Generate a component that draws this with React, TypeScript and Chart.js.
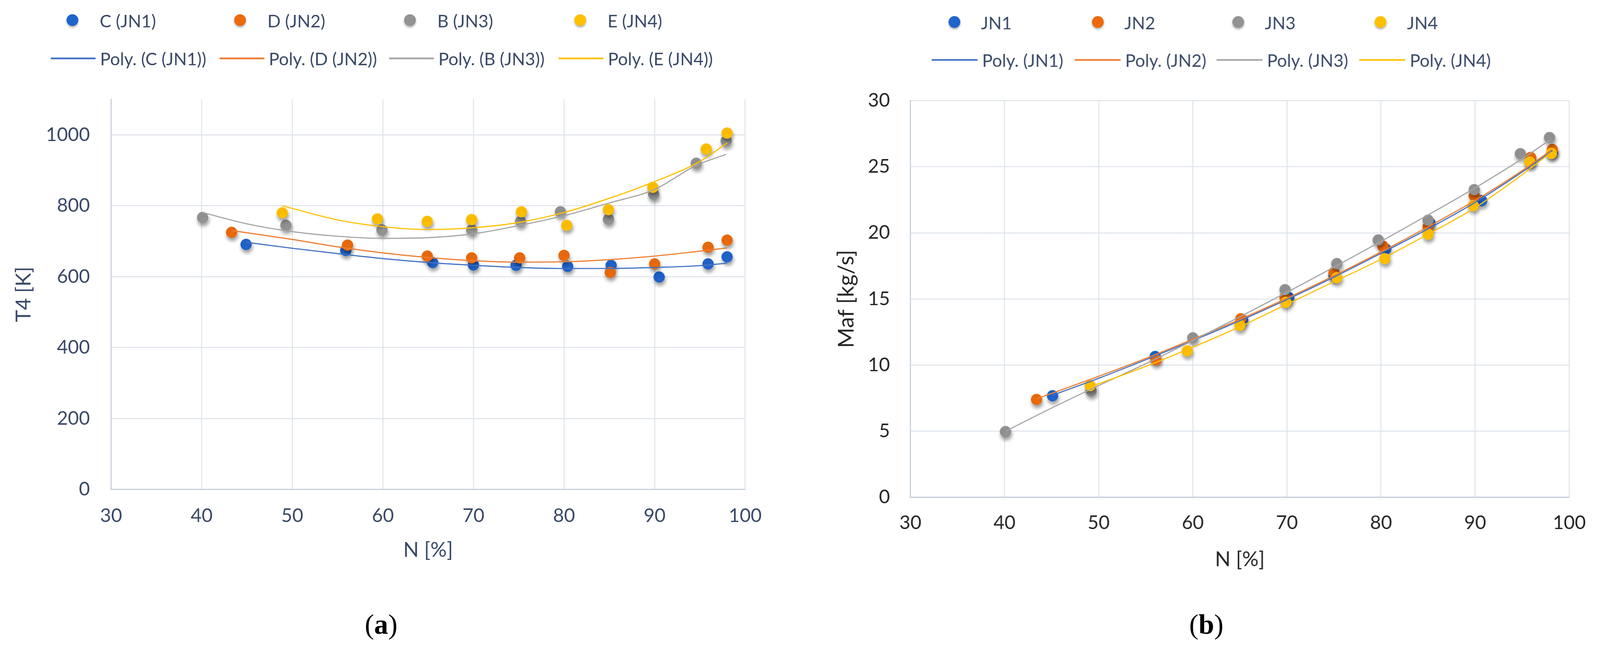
import React, { useEffect, useRef } from 'react';
import { Chart, registerables } from 'chart.js';

Chart.register(...registerables);

// ---------- Panel (a): T4 [K] vs N [%] ----------
const A_LABELS = ['C (JN1)', 'D (JN2)', 'B (JN3)', 'E (JN4)'];
const A_FIT_LABELS = ['Poly. (C (JN1))', 'Poly. (D (JN2))', 'Poly. (B (JN3))', 'Poly. (E (JN4))'];

const A_C_N = [44.9, 55.9, 65.5, 70.0, 74.7, 80.4, 85.2, 90.5, 95.9, 98.0];
const A_C_T = [691, 674, 640, 633, 632, 629, 632, 599, 636, 656];
const A_D_N = [43.3, 56.1, 64.9, 69.8, 75.1, 80.0, 85.1, 90.0, 95.9, 98.0];
const A_D_T = [725, 689, 658, 653, 653, 660, 612, 636, 683, 703];
const A_B_N = [40.1, 49.3, 59.9, 69.8, 75.2, 79.6, 84.9, 89.9, 94.6, 97.9];
const A_B_T = [767, 745, 732, 732, 756, 783, 762, 832, 920, 983];
const A_E_N = [48.9, 59.4, 64.9, 69.8, 75.3, 80.3, 84.9, 89.8, 95.7, 98.0];
const A_E_T = [780, 763, 756, 761, 783, 745, 789, 852, 960, 1005];

// trendline samples
const A_C_FIT_N = [44.9, 50, 55, 60, 65, 70, 75, 80, 85, 90, 95, 98];
const A_C_FIT_T = [697, 680, 665, 651, 640, 632, 626, 623, 623, 626, 631, 638];
const A_D_FIT_N = [43.3, 50, 55, 60, 65, 70, 75, 80, 85, 90, 95, 98];
const A_D_FIT_T = [730, 705, 684, 667, 654, 645, 641, 642, 648, 658, 672, 681];
const A_B_FIT_N = [40.1, 45, 50, 55, 60, 65, 70, 75, 80, 85, 90, 94.6, 97.9];
const A_B_FIT_T = [781, 749, 727, 714, 708, 710, 721, 744, 772, 808, 846, 914, 945];
const A_E_FIT_N = [48.9, 55, 60, 65, 70, 75, 80, 85, 90, 95, 98];
const A_E_FIT_T = [800, 760, 741, 733, 738, 753, 781, 821, 868, 925, 977];

const A_Y_MIN = 0;
const A_Y_MAX = 1100;
const A_Y_STEP = 200;

// ---------- Panel (b): Maf [kg/s] vs N [%] ----------
const B_LABELS = ['JN1', 'JN2', 'JN3', 'JN4'];
const B_FIT_LABELS = ['Poly. (JN1)', 'Poly. (JN2)', 'Poly. (JN3)', 'Poly. (JN4)'];

const B_1_N = [45.1, 56.0, 65.3, 70.2, 75.0, 80.5, 85.2, 90.7, 95.9, 98.2];
const B_1_M = [7.68, 10.65, 13.4, 15.1, 16.8, 18.77, 20.74, 22.43, 25.4, 26.1];
const B_2_N = [43.4, 56.1, 65.1, 69.8, 75.0, 80.2, 85.0, 89.9, 95.9, 98.2];
const B_2_M = [7.4, 10.4, 13.5, 15.1, 17.0, 18.99, 20.45, 22.8, 25.7, 26.3];
const B_3_N = [40.1, 49.2, 60.0, 69.8, 75.3, 79.7, 85.0, 89.9, 94.8, 97.9];
const B_3_M = [4.97, 8.05, 12.06, 15.7, 17.67, 19.46, 20.96, 23.26, 25.98, 27.2];
const B_4_N = [49.1, 59.4, 65.0, 69.9, 75.3, 80.4, 85.0, 89.8, 95.8, 98.1];
const B_4_M = [8.45, 11.07, 13.0, 14.75, 16.6, 18.04, 19.9, 22.05, 25.35, 26.0];

const B_1_FIT_N = [45.1, 50, 55, 60, 65, 70, 75, 80, 85, 90, 95, 98.2];
const B_1_FIT_M = [7.72, 9.0, 10.4, 11.85, 13.35, 14.95, 16.65, 18.45, 20.3, 22.3, 24.6, 26.2];
const B_2_FIT_N = [43.4, 50, 55, 60, 65, 70, 75, 80, 85, 90, 95, 98.2];
const B_2_FIT_M = [7.45, 9.15, 10.5, 11.95, 13.45, 15.05, 16.75, 18.55, 20.45, 22.45, 24.7, 26.3];
const B_3_FIT_N = [40.1, 45, 50, 55, 60, 65, 70, 75, 80, 85, 90, 95, 97.9];
const B_3_FIT_M = [5.0, 6.75, 8.45, 10.1, 11.85, 13.65, 15.5, 17.4, 19.35, 21.35, 23.4, 25.6, 27.0];
const B_4_FIT_N = [49.1, 55, 60, 65, 70, 75, 80, 85, 90, 95, 98.1];
const B_4_FIT_M = [8.35, 9.9, 11.35, 12.9, 14.6, 16.3, 18.0, 19.9, 21.9, 24.4, 26.1];

const B_Y_MIN = 0;
const B_Y_MAX = 30;
const B_Y_STEP = 5;

const X_MIN = 30;
const X_MAX = 100;
const X_STEP = 10;

// ---------- styles ----------
const REF_W = 4219;
const REF_H = 1707;
const POINT_COLORS = ['#1F63CC', '#EC6A0C', '#939393', '#FFC000'];
const LINE_COLORS = ['#4472C4', '#ED7D31', '#A5A5A5', '#FFC000'];
const FONT = "Lato, 'Open Sans', sans-serif";
const GRID = '#DDE2EB';
const AXIS = '#C8D0DD';
const NAVY = '#3A4A68';
const DARK = '#262626';

const pts = (xs: number[], ys: number[]) => xs.map((x, i) => ({ x, y: ys[i] }));

const shadowPlugin = {
  id: 'pointShadow',
  beforeDatasetDraw(chart: any, args: any) {
    const ds = chart.data.datasets[args.index];
    if (ds.isPoints) {
      const ctx = chart.ctx;
      ctx.save();
      ctx.shadowColor = 'rgba(0,0,0,0.38)';
      ctx.shadowBlur = 10 * (chart.currentDevicePixelRatio || 1);
      ctx.shadowOffsetX = 2 * (chart.currentDevicePixelRatio || 1);
      ctx.shadowOffsetY = 8 * (chart.currentDevicePixelRatio || 1);
    }
  },
  afterDatasetDraw(chart: any, args: any) {
    const ds = chart.data.datasets[args.index];
    if (ds.isPoints) chart.ctx.restore();
  },
};

interface LegendCfg {
  markerX: number[];
  lineX: number[];
  lineLen: number;
  row0Y: number;
  row1Y: number;
  markerTextGap: number;
  lineTextGap: number;
  color: string;
  size: number;
}

function makeLegendPlugin(cfg: LegendCfg) {
  return {
    id: 'gridLegend',
    afterDraw(chart: any) {
      const ctx = chart.ctx;
      const ds = chart.data.datasets;
      const r = chart.currentDevicePixelRatio || 1;
      ctx.save();
      ctx.font = `${cfg.size}px ${FONT}`;
      ctx.textBaseline = 'middle';
      ctx.textAlign = 'left';
      for (let i = 0; i < 4; i++) {
        const p = ds[i];
        const x = cfg.markerX[i];
        ctx.save();
        ctx.shadowColor = 'rgba(0,0,0,0.3)';
        ctx.shadowBlur = 6 * r;
        ctx.shadowOffsetY = 4 * r;
        ctx.beginPath();
        ctx.ellipse(x, cfg.row0Y, 15.5, 15.5, 0, 0, Math.PI * 2);
        ctx.fillStyle = p.backgroundColor;
        ctx.fill();
        ctx.restore();
        ctx.fillStyle = cfg.color;
        ctx.fillText(p.label, x + cfg.markerTextGap, cfg.row0Y + 4);

        const l = ds[i + 4];
        const lx = cfg.lineX[i];
        ctx.strokeStyle = l.borderColor;
        ctx.lineWidth = 4.5;
        ctx.beginPath();
        ctx.moveTo(lx, cfg.row1Y);
        ctx.lineTo(lx + cfg.lineLen, cfg.row1Y);
        ctx.stroke();
        ctx.fillStyle = cfg.color;
        ctx.fillText(l.label, lx + cfg.lineLen + cfg.lineTextGap, cfg.row1Y + 3);
      }
      ctx.restore();
    },
  };
}

interface PanelCfg {
  labels: string[];
  fitLabels: string[];
  series: { x: number[]; y: number[] }[];
  fits: { x: number[]; y: number[] }[];
  yMin: number;
  yMax: number;
  yStep: number;
  yTitle: string;
  tickColor: string;
  titleColor: string;
  yTitleSize: number;
  yTitlePad: number;
  yAxisWidth: number;
  yTickPad: number;
  xAxisHeight: number;
  xTickPad: number;
  padding: { top: number; right: number; bottom: number; left: number };
  legend: LegendCfg;
}

function buildConfig(p: PanelCfg, ratio: number): any {
  const datasets: any[] = [];
  p.series.forEach((s, i) => {
    datasets.push({
      label: p.labels[i],
      data: pts(s.x, s.y),
      isPoints: true,
      backgroundColor: POINT_COLORS[i],
      borderColor: POINT_COLORS[i],
      borderWidth: 1,
      pointRadius: 14.5,
      pointHoverRadius: 14.5,
      showLine: false,
      order: 10 - i,
    });
  });
  p.fits.forEach((s, i) => {
    datasets.push({
      label: p.fitLabels[i],
      data: pts(s.x, s.y),
      borderColor: LINE_COLORS[i],
      backgroundColor: LINE_COLORS[i],
      borderWidth: 3,
      pointRadius: 0,
      pointHoverRadius: 0,
      showLine: true,
      tension: 0.4,
      cubicInterpolationMode: 'monotone',
      order: 4 - i,
    });
  });
  return {
    type: 'scatter',
    data: { datasets },
    options: {
      responsive: false,
      animation: false,
      devicePixelRatio: ratio,
      layout: { padding: p.padding },
      plugins: { legend: { display: false }, tooltip: { enabled: false }, title: { display: false } },
      scales: {
        x: {
          type: 'linear',
          min: X_MIN,
          max: X_MAX,
          ticks: {
            stepSize: X_STEP,
            padding: p.xTickPad,
            color: p.tickColor,
            font: { family: FONT, size: 50 },
            callback: (v: any) => String(v),
          },
          grid: { color: GRID, lineWidth: 2.5, drawTicks: false },
          border: { color: AXIS, width: 3 },
          title: {
            display: true,
            text: 'N [%]',
            color: p.titleColor,
            font: { family: FONT, size: 54 },
            padding: { top: 0, bottom: 0 },
          },
          afterFit: (s: any) => {
            s.height = p.xAxisHeight;
          },
        },
        y: {
          type: 'linear',
          min: p.yMin,
          max: p.yMax,
          ticks: {
            stepSize: p.yStep,
            includeBounds: false,
            padding: p.yTickPad,
            color: p.tickColor,
            font: { family: FONT, size: 50 },
            callback: (v: any) => String(v),
          },
          grid: { color: GRID, lineWidth: 2.5, drawTicks: false },
          border: { color: AXIS, width: 3 },
          title: {
            display: true,
            text: p.yTitle,
            color: p.titleColor,
            font: { family: FONT, size: p.yTitleSize },
            padding: { top: p.yTitlePad, bottom: 0 },
          },
          afterFit: (s: any) => {
            s.width = p.yAxisWidth;
          },
        },
      },
    },
    plugins: [shadowPlugin, makeLegendPlugin(p.legend)],
  };
}

const PANEL_A: PanelCfg = {
  labels: A_LABELS,
  fitLabels: A_FIT_LABELS,
  series: [
    { x: A_C_N, y: A_C_T },
    { x: A_D_N, y: A_D_T },
    { x: A_B_N, y: A_B_T },
    { x: A_E_N, y: A_E_T },
  ],
  fits: [
    { x: A_C_FIT_N, y: A_C_FIT_T },
    { x: A_D_FIT_N, y: A_D_FIT_T },
    { x: A_B_FIT_N, y: A_B_FIT_T },
    { x: A_E_FIT_N, y: A_E_FIT_T },
  ],
  yMin: A_Y_MIN,
  yMax: A_Y_MAX,
  yStep: A_Y_STEP,
  yTitle: 'T4 [K]',
  tickColor: NAVY,
  titleColor: NAVY,
  yTitleSize: 54,
  yTitlePad: 31,
  yAxisWidth: 293,
  yTickPad: 56,
  xAxisHeight: 193,
  xTickPad: 40,
  padding: { top: 262, right: 145, bottom: 224, left: 0 },
  legend: {
    markerX: [191, 633, 1081, 1530],
    lineX: [134, 579, 1026, 1473],
    lineLen: 118,
    row0Y: 53,
    row1Y: 154,
    markerTextGap: 72,
    lineTextGap: 12,
    color: NAVY,
    size: 46,
  },
};

const PANEL_B: PanelCfg = {
  labels: B_LABELS,
  fitLabels: B_FIT_LABELS,
  series: [
    { x: B_1_N, y: B_1_M },
    { x: B_2_N, y: B_2_M },
    { x: B_3_N, y: B_3_M },
    { x: B_4_N, y: B_4_M },
  ],
  fits: [
    { x: B_1_FIT_N, y: B_1_FIT_M },
    { x: B_2_FIT_N, y: B_2_FIT_M },
    { x: B_3_FIT_N, y: B_3_FIT_M },
    { x: B_4_FIT_N, y: B_4_FIT_M },
  ],
  yMin: B_Y_MIN,
  yMax: B_Y_MAX,
  yStep: B_Y_STEP,
  yTitle: 'Maf [kg/s]',
  tickColor: DARK,
  titleColor: DARK,
  yTitleSize: 58,
  yTitlePad: 88,
  yAxisWidth: 291,
  yTickPad: 54,
  xAxisHeight: 197,
  xTickPad: 38,
  padding: { top: 265, right: 56, bottom: 199, left: 0 },
  legend: {
    markerX: [407, 785, 1155, 1530],
    lineX: [347, 724, 1098, 1474],
    lineLen: 121,
    row0Y: 58,
    row1Y: 158,
    markerTextGap: 70,
    lineTextGap: 12,
    color: NAVY,
    size: 46,
  },
};

function Panel({ cfg, left, width, s }: { cfg: PanelCfg; left: number; width: number; s: number }) {
  const ref = useRef<HTMLCanvasElement | null>(null);
  useEffect(() => {
    if (!ref.current) return;
    const ratio = s * (window.devicePixelRatio || 1);
    const chart = new Chart(ref.current, buildConfig(cfg, ratio));
    return () => chart.destroy();
  }, [cfg, s]);
  return (
    <div style={{ position: 'absolute', left: left * s, top: 0, width: width * s, height: REF_H * s }}>
      <canvas
        ref={ref}
        width={width}
        height={REF_H}
        style={{ width: width * s, height: REF_H * s, display: 'block' }}
      />
    </div>
  );
}

function Caption({ letter, cx, s }: { letter: string; cx: number; s: number }) {
  return (
    <div
      style={{
        position: 'absolute',
        left: (cx - 150) * s,
        width: 300 * s,
        top: 1600 * s,
        textAlign: 'center',
        fontFamily: "'Liberation Serif', 'DejaVu Serif', serif",
        fontSize: 74 * s,
        lineHeight: `${94 * s}px`,
        color: '#000',
      }}
    >
      (<b>{letter}</b>)
    </div>
  );
}

export default function App() {
  const s = Math.min(window.innerWidth / REF_W, window.innerHeight / REF_H) || 1;
  return (
    <div
      style={{
        position: 'absolute',
        left: 0,
        top: 0,
        width: REF_W * s,
        height: REF_H * s,
        background: '#ffffff',
        overflow: 'hidden',
      }}
    >
      <Panel cfg={PANEL_A} left={0} width={2110} s={s} />
      <Panel cfg={PANEL_B} left={2110} width={2109} s={s} />
      <Caption letter="a" cx={1005} s={s} />
      <Caption letter="b" cx={3181} s={s} />
    </div>
  );
}
